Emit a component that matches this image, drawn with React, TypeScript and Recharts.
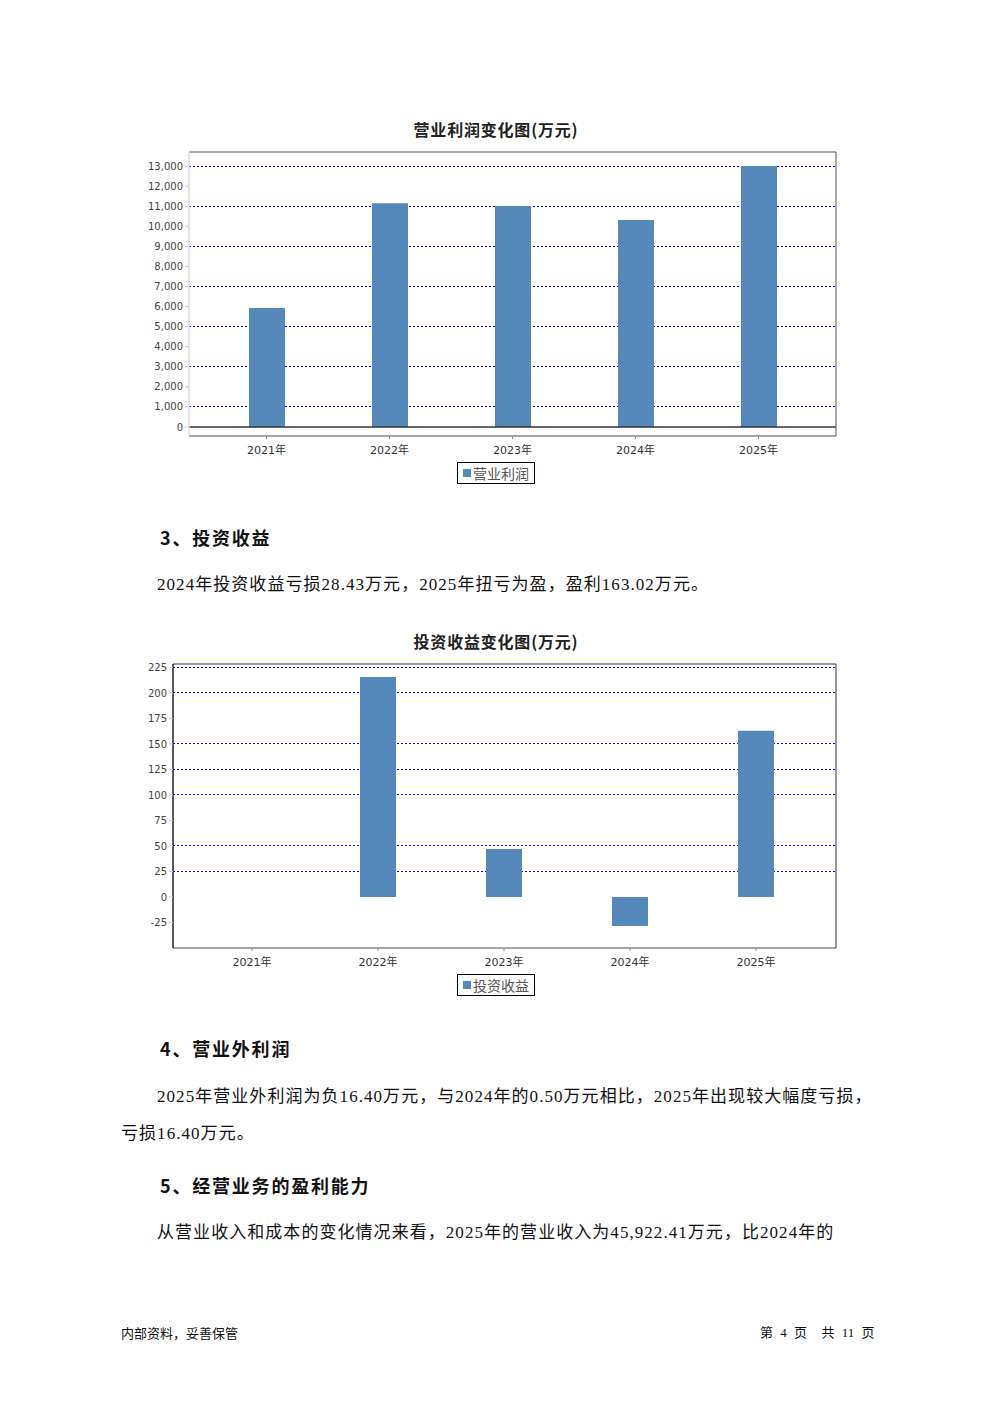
import { BarChart, Bar, XAxis, YAxis, CartesianGrid, ReferenceLine } from 'recharts';

const years = ['2021年', '2022年', '2023年', '2024年', '2025年'];
const operatingProfit = [5930, 11150, 11010, 10310, 13000];
const investmentIncome = [0, 215.7, 47.1, -28.43, 163.02];

const profitTicks = [0, 1000, 2000, 3000, 4000, 5000, 6000, 7000, 8000, 9000, 10000, 11000, 12000, 13000];
const profitGridValues = [1000, 2000, 3000, 4000, 5000, 6000, 7000, 8000, 9000, 10000, 11000, 12000, 13000];
const incomeTicks = [-25, 0, 25, 50, 75, 100, 125, 150, 175, 200, 225];
// 参考图里 175 和 75 处没有网格线
const incomeGridValues = [25, 50, 100, 125, 150, 200, 225];

const profitData = years.map((year, i) => ({ year, value: operatingProfit[i] }));
const incomeData = years.map((year, i) => ({ year, value: investmentIncome[i] }));

const BAR_COLOR = '#5588bb';
const cjk = '"Noto Sans CJK SC", "Noto Sans", sans-serif';
const bodyFont = '"Liberation Serif", "Noto Sans CJK SC", serif';

const tickStyle = { fontSize: 10, fill: '#444', fontFamily: '"DejaVu Sans", sans-serif' };
const xTickStyle = { fontSize: 11, fill: '#333', fontFamily: '"DejaVu Sans", "Noto Sans CJK SC", sans-serif' };

const abs = (top: number, left: number, extra: React.CSSProperties = {}): React.CSSProperties => ({
  position: 'absolute',
  top,
  left,
  whiteSpace: 'nowrap',
  ...extra,
});

function Title({ text, top }: { text: string; top: number }) {
  return (
    <div
      style={abs(top, 0, {
        width: 992,
        textAlign: 'center',
        fontFamily: cjk,
        fontWeight: 700,
        fontSize: 16,
        lineHeight: '18px',
        letterSpacing: 0.8,
        color: '#222',
      })}
    >
      {text}
    </div>
  );
}

function LegendBox({ label, top }: { label: string; top: number }) {
  return (
    <div
      style={abs(top, 457, {
        width: 76,
        height: 20,
        border: '1px solid #000',
        display: 'flex',
        alignItems: 'center',
        justifyContent: 'center',
        fontFamily: cjk,
        fontSize: 14,
        color: '#555',
      })}
    >
      <span style={{ width: 8, height: 8, background: BAR_COLOR, display: 'inline-block', marginRight: 2 }} />
      {label}
    </div>
  );
}

function Heading({ text, top }: { text: string; top: number }) {
  return (
    <div style={abs(top, 160, { fontFamily: cjk, fontWeight: 700, fontSize: 18, lineHeight: '22px', letterSpacing: 1.8, color: '#111' })}>
      {text}
    </div>
  );
}

function Para({ text, top, left = 157 }: { text: string; top: number; left?: number }) {
  return (
    <div style={abs(top, left, { fontFamily: bodyFont, fontSize: 17, lineHeight: '20px', letterSpacing: 1.05, color: '#111' })}>
      {text}
    </div>
  );
}

export default function App() {
  return (
    <div style={{ position: 'absolute', left: 0, top: 0, width: 992, height: 1403, background: '#fff' }}>
      <style>{'.recharts-cartesian-grid line { shape-rendering: crispEdges; }'}</style>
      <Title text="营业利润变化图(万元)" top={120} />
      <div style={abs(140, 0)}>
        <BarChart width={992} height={320} data={profitData} margin={{ top: 11, right: 155, left: 149, bottom: 4 }}>
          <CartesianGrid
            horizontal
            vertical={false}
            horizontalValues={profitGridValues}
            syncWithTicks
            stroke="#0000ff"
            strokeDasharray="2 2"
          />
          <XAxis
            dataKey="year"
            padding={{ left: 16, right: 16 }}
            height={20}
            tick={xTickStyle}
            tickSize={3}
            tickMargin={7}
            axisLine={{ stroke: '#888', strokeWidth: 1.5 }}
            tickLine={{ stroke: '#888' }}
          />
          <XAxis xAxisId="top" dataKey="year" orientation="top" height={1} tick={false} tickLine={false} axisLine={{ stroke: '#555' }} />
          <YAxis
            domain={[-450, 13700]}
            ticks={profitTicks}
            width={40}
            tick={tickStyle}
            tickSize={4}
            tickMargin={2}
            tickFormatter={(v: number) => v.toLocaleString('en-US')}
            axisLine={{ stroke: '#ddd', strokeWidth: 1.5 }}
            tickLine={{ stroke: '#ccc' }}
          />
          <YAxis yAxisId="right" orientation="right" width={1} tick={false} tickLine={false} axisLine={{ stroke: '#555' }} />
          <ReferenceLine y={0} stroke="#333" strokeWidth={1.5} />
          <Bar dataKey="value" fill={BAR_COLOR} barSize={36} isAnimationActive={false} />
        </BarChart>
      </div>
      <LegendBox label="营业利润" top={462} />

      <Heading text="3、投资收益" top={526} />
      <Para text="2024年投资收益亏损28.43万元，2025年扭亏为盈，盈利163.02万元。" top={575} />

      <Title text="投资收益变化图(万元)" top={632} />
      <div style={abs(652, 0)}>
        <BarChart width={992} height={320} data={incomeData} margin={{ top: 11, right: 155, left: 133, bottom: 4 }}>
          <CartesianGrid
            horizontal
            vertical={false}
            horizontalValues={incomeGridValues}
            syncWithTicks
            stroke="#0000ff"
            strokeDasharray="2 2"
          />
          <XAxis
            dataKey="year"
            padding={{ left: 16, right: 17 }}
            height={20}
            tick={xTickStyle}
            tickSize={3}
            tickMargin={7}
            axisLine={{ stroke: '#888', strokeWidth: 1.5 }}
            tickLine={{ stroke: '#888' }}
          />
          <XAxis xAxisId="top" dataKey="year" orientation="top" height={1} tick={false} tickLine={false} axisLine={{ stroke: '#333' }} />
          <YAxis
            domain={[-50, 228.4]}
            ticks={incomeTicks}
            width={40}
            tick={tickStyle}
            tickSize={4}
            tickMargin={2}
            axisLine={{ stroke: '#222', strokeWidth: 1.5 }}
            tickLine={{ stroke: '#ccc' }}
          />
          <YAxis yAxisId="right" orientation="right" width={1} tick={false} tickLine={false} axisLine={{ stroke: '#333' }} />
          <Bar dataKey="value" fill={BAR_COLOR} barSize={36} isAnimationActive={false} />
        </BarChart>
      </div>
      <LegendBox label="投资收益" top={974} />

      <Heading text="4、营业外利润" top={1037} />
      <Para text="2025年营业外利润为负16.40万元，与2024年的0.50万元相比，2025年出现较大幅度亏损，" top={1087} />
      <Para text="亏损16.40万元。" top={1124} left={121} />

      <Heading text="5、经营业务的盈利能力" top={1174} />
      <Para text="从营业收入和成本的变化情况来看，2025年的营业收入为45,922.41万元，比2024年的" top={1223} />

      <div style={abs(1325, 121, { fontFamily: cjk, fontSize: 13, lineHeight: '16px', color: '#111' })}>内部资料，妥善保管</div>
      <div style={abs(1325, 760, { fontFamily: bodyFont, fontSize: 13, lineHeight: '16px', color: '#111', wordSpacing: 4 })}>
        第 4 页 &nbsp;共 11 页
      </div>
    </div>
  );
}
